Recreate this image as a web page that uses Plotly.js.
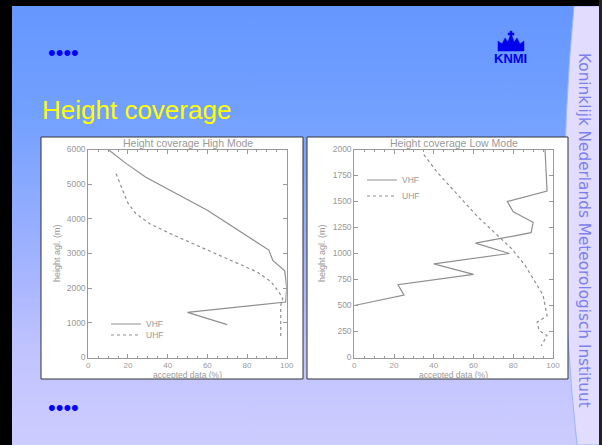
<!DOCTYPE html>
<html><head><meta charset="utf-8">
<script src="https://cdn.plot.ly/plotly-3.0.1.min.js"></script>
<style>
html,body{margin:0;padding:0;background:#000;}
#slide{width:602px;height:445px;}
</style></head><body><div id="slide"></div>
<script>
// ---- data ----
const highVhfAccepted = [10, 19, 29, 60, 91, 93, 99, 100, 99.5, 50, 70];
const highVhfHeight   = [6000, 5600, 5200, 4250, 3100, 2800, 2500, 2000, 1600, 1300, 950];
const highUhfAccepted = [14, 17, 20, 24, 31, 43, 60, 76, 85, 92, 96, 98, 97, 97, 97];
const highUhfHeight   = [5300, 4870, 4450, 4150, 3860, 3530, 3100, 2710, 2470, 2190, 1900, 1700, 1500, 1000, 600];

const lowVhfAccepted = [96, 97, 77, 80, 90, 89, 61, 78, 40, 60, 22, 25, 0];
const lowVhfHeight   = [2000, 1600, 1500, 1400, 1300, 1200, 1100, 1000, 900, 800, 700, 600, 500];
const lowUhfAccepted = [35, 42, 52, 62, 72, 79, 86, 91, 95, 97, 92, 93, 97, 94];
const lowUhfHeight   = [1950, 1775, 1565, 1355, 1175, 1050, 885, 725, 600, 400, 340, 260, 210, 110];

const seriesNames = ['VHF', 'UHF'];
const slideTitle = 'Height coverage';
const chartTitles = ['Height coverage High Mode', 'Height coverage Low Mode'];
const xTitle = 'accepted data (%)';
const yTitle = 'height agl. (m)';
const sideText = 'Koninklijk Nederlands Meteorologisch Instituut';
const logoText = 'KNMI';

// ---- layout helpers ----
const W = 602, H = 445;
const px = v => v / W;
const py = v => 1 - v / H;
const FONT = 'Liberation Sans, Arial, sans-serif';
const GREY = '#8f8f8f';
const AX = '#999999';

function line(x, y, dashed, xa, ya, name, leg) {
  return {x: x, y: y, xaxis: xa, yaxis: ya, name: name, legend: leg, mode: 'lines', type: 'scatter',
    cliponaxis: false, hoverinfo: 'skip',
    line: {color: GREY, width: 1.2, dash: dashed ? '3px,3px' : 'solid'}};
}

const data = [
  line(highVhfAccepted, highVhfHeight, false, 'x', 'y', seriesNames[0], 'legend'),
  line(highUhfAccepted, highUhfHeight, true, 'x', 'y', seriesNames[1], 'legend2'),
  line(lowVhfAccepted, lowVhfHeight, false, 'x2', 'y2', seriesNames[0], 'legend3'),
  line(lowUhfAccepted, lowUhfHeight, true, 'x2', 'y2', seriesNames[1], 'legend4')
];

function xax(dom, anchor) {
  return {domain: dom, anchor: anchor, range: [0, 100], tick0: 0, dtick: 20,
    ticks: 'inside', ticklen: 4, tickcolor: AX, linecolor: AX, linewidth: 1, mirror: 'ticks',
    showgrid: false, zeroline: false, fixedrange: true,
    tickfont: {family: FONT, size: 8, color: AX},
    minor: {dtick: 5, ticks: 'inside', ticklen: 2, tickcolor: AX}};
}
function yax(dom, anchor, max, dt) {
  return {domain: dom, anchor: anchor, range: [0, max], tick0: 0, dtick: dt,
    ticks: 'inside', ticklen: 4, tickcolor: AX, linecolor: AX, linewidth: 1, mirror: 'ticks',
    showgrid: false, zeroline: false, fixedrange: true,
    tickfont: {family: FONT, size: 8.5, color: AX}};
}
function leg(x, y) {
  return {x: px(x), y: py(y), xanchor: 'left', yanchor: 'middle', bgcolor: 'rgba(0,0,0,0)',
    borderwidth: 0, font: {family: FONT, size: 8.5, color: AX}};
}
function note(text, x, y, size, color, extra) {
  return Object.assign({text: text, xref: 'paper', yref: 'paper', x: px(x), y: py(y),
    xanchor: 'center', yanchor: 'middle', showarrow: false,
    font: {family: FONT, size: size, color: color}}, extra || {});
}

const bgSvg = "<svg xmlns='http://www.w3.org/2000/svg' width='602' height='445' preserveAspectRatio='none'>" +
  "<defs><linearGradient id='g' x1='0' y1='0' x2='0' y2='1'>" +
  "<stop offset='0' stop-color='#6496ff'/><stop offset='0.25' stop-color='#72a0ff'/>" +
  "<stop offset='0.55' stop-color='#9cb0ff'/><stop offset='0.8' stop-color='#c2c4ff'/>" +
  "<stop offset='1' stop-color='#ccccff'/></linearGradient></defs>" +
  "<rect width='602' height='445' fill='url(#g)'/></svg>";
const bgUri = 'data:image/svg+xml;charset=utf-8,' + encodeURIComponent(bgSvg);

const crown = [[498,51],[498,41],[502,44],[505,38],[508,42],[510,36],[510,35],[508,35],[508,33],[510,33],[510,31],[512,31],[512,33],[514,33],[514,35],[512,35],[512,36],[514,42],[517,38],[520,44],[524,41],[524,51]];
const crownPath = 'M ' + crown.map(p => px(p[0]) + ',' + py(p[1])).join(' L ') + ' Z';

const yDom = [py(357.5), py(149.5)];

const layout = {
  width: W, height: H, margin: {l: 0, r: 0, t: 0, b: 0, pad: 0},
  paper_bgcolor: '#9cb0ff', plot_bgcolor: 'rgba(0,0,0,0)',
  font: {family: FONT},
  xaxis: xax([px(88.3), px(286.7)], 'y'),
  yaxis: yax(yDom, 'x', 6000, 1000),
  xaxis2: xax([px(354.3), px(553)], 'y2'),
  yaxis2: yax(yDom, 'x2', 2000, 250),
  showlegend: true,
  legend: leg(106, 324),
  legend2: leg(106, 335),
  legend3: leg(362, 180),
  legend4: leg(362, 196),
  images: [{source: bgUri, xref: 'paper', yref: 'paper', x: 0, y: 1, sizex: 1, sizey: 1,
    sizing: 'stretch', xanchor: 'left', yanchor: 'top', layer: 'below'}],
  shapes: [
    // right lavender band
    {type: 'path', xref: 'paper', yref: 'paper', layer: 'below',
     path: `M ${px(574)},${py(6)} Q ${px(553)},${py(225)} ${px(577)},${py(445)} L 1,0 L 1,${py(6)} Z`,
     fillcolor: '#e2ddff', line: {color: '#9db4ff', width: 1}},
    // black frame
    {type: 'rect', xref: 'paper', yref: 'paper', layer: 'below', x0: 0, x1: px(12), y0: 0, y1: 1, fillcolor: '#000', line: {width: 0}},
    {type: 'rect', xref: 'paper', yref: 'paper', layer: 'below', x0: 0, x1: 1, y0: py(6), y1: 1, fillcolor: '#000', line: {width: 0}},
    {type: 'rect', xref: 'paper', yref: 'paper', layer: 'below', x0: px(599), x1: 1, y0: 0, y1: 1, fillcolor: '#222', line: {width: 0}},
    // chart panels
    {type: 'rect', xref: 'paper', yref: 'paper', layer: 'below', x0: px(41), x1: px(303), y0: py(379), y1: py(137),
     fillcolor: '#ffffff', line: {color: '#333', width: 1}},
    {type: 'rect', xref: 'paper', yref: 'paper', layer: 'below', x0: px(307), x1: px(568), y0: py(379), y1: py(137),
     fillcolor: '#ffffff', line: {color: '#333', width: 1}},
    // KNMI crown
    {type: 'path', xref: 'paper', yref: 'paper', layer: 'above', path: crownPath,
     fillcolor: '#0000ee', line: {color: '#0000ee', width: 0.5}}
  ],
  annotations: [
    note(slideTitle, 40, 110, 26, '#ffff00', {xanchor: 'left'}),
    note('••••', 46, 52, 22, '#0000ff', {xanchor: 'left'}),
    note('••••', 46, 407, 22, '#0000ff', {xanchor: 'left'}),
    note('<b>' + logoText + '</b>', 510, 58, 13, '#0000ee'),
    note(sideText, 584, 230, 15, '#7b80ee', {textangle: 90, font: {family: 'DejaVu Sans', size: 15.3, color: '#7b80ee'}}),
    note(chartTitles[0], 187.5, 143, 10.5, AX),
    note(chartTitles[1], 453.6, 143, 10.5, AX),
    note(xTitle, 187.5, 375, 8.5, AX),
    note(xTitle, 453.6, 375, 8.5, AX),
    note(yTitle, 57, 253, 9, AX, {textangle: -90}),
    note(yTitle, 322, 253, 9, AX, {textangle: -90})
  ]
};

Plotly.newPlot('slide', data, layout, {displayModeBar: false, staticPlot: true});
</script>
</body></html>
